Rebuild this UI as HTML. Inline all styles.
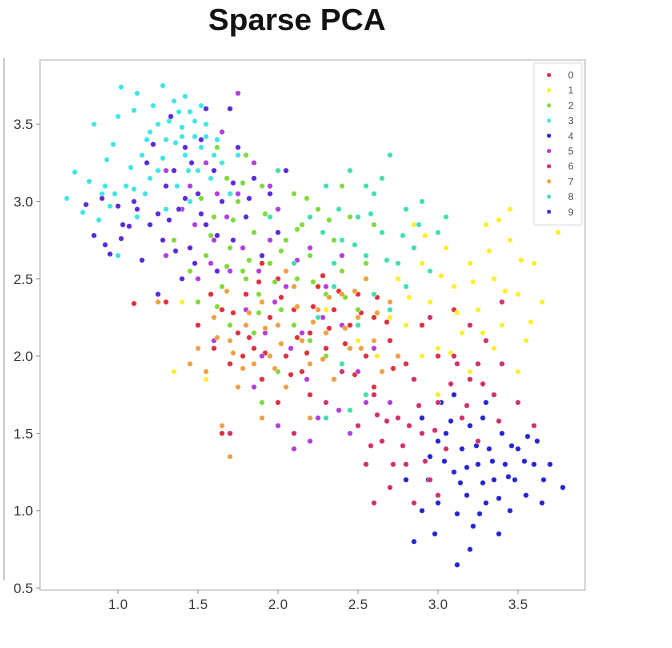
<!DOCTYPE html>
<html><head><meta charset="utf-8"><style>
html,body{margin:0;padding:0;background:#fff;}
svg{display:block;font-family:"Liberation Sans",sans-serif;}
</style></head><body>
<svg id="chart" width="672" height="648" viewBox="0 0 672 648">
<line x1="4" y1="58" x2="4" y2="580" stroke="#ccc" stroke-width="2"/>
<text x="297" y="30" text-anchor="middle" font-size="31" font-weight="bold" fill="#111">Sparse PCA</text>
<rect x="40" y="60" width="545" height="530" fill="#fff" stroke="#ccc" stroke-width="1.5"/>
<g id="axes"></g>
<g id="points"></g>
<g id="legend"></g>
</svg>
<script>
const classLabels=["0","1","2","3","4","5","6","7","8","9"];
const classColors=["#e0303a","#ffee30","#7ddc3a","#40e6e6","#2424d0","#b43ce0","#d0306e","#f0a040","#40e0b0","#5a2ad8"];
const xTicks=[1.0,1.5,2.0,2.5,3.0,3.5];
const yTicks=[0.5,1.0,1.5,2.0,2.5,3.0,3.5];
const c0=[[1.1,2.34],[1.3,2.35],[1.5,2.2],[1.6,2.05],[1.65,2.3],[1.7,1.95],[1.75,2.15],[1.8,2.4],[1.85,2.05],[1.9,1.85],[1.95,2.25],[2.0,2.5],[2.05,2.0],[2.1,2.3],[2.15,1.9],[2.2,2.15],[2.25,2.45],[2.3,2.05],[2.35,2.3],[2.4,1.95],[2.45,2.2],[2.5,2.4],[2.55,2.0],[2.6,2.25],[2.7,2.1],[2.8,1.95],[2.9,2.2],[3.0,2.0],[3.1,2.3],[1.65,1.5],[2.0,1.7],[2.2,1.75],[1.9,2.6],[2.1,2.6],[2.6,1.8],
[1.58,2.4],[1.72,2.28],[1.82,2.12],[1.92,2.02],[2.02,2.38],[2.12,2.12],[2.22,2.32],[2.32,2.18],[2.42,2.08],[2.52,2.28],[2.62,2.38],[2.72,1.92],[1.88,2.48],[2.08,1.88],[2.28,2.52],[2.48,1.88],[1.78,2.0],[2.18,2.02],[2.38,2.42],[2.68,2.22]];
const c1=[[1.35,1.9],[1.4,2.35],[1.55,1.85],[1.7,1.35],[2.75,2.5],[2.8,2.2],[2.85,2.85],[2.9,2.6],[2.95,2.35],[3.0,2.05],[3.05,2.7],[3.1,2.45],[3.15,2.15],[3.2,2.6],[3.25,2.3],[3.3,2.85],[3.35,2.5],[3.4,2.2],[3.45,2.75],[3.5,2.4],[3.55,2.1],[3.6,2.6],[3.65,2.35],[3.75,2.8],[3.45,2.95],[3.2,1.9],[3.0,1.75],[2.9,2.0],[3.5,1.9],[3.35,2.05],[2.5,2.1],[2.3,2.3],
[2.82,2.38],[2.92,2.78],[3.02,2.52],[3.12,2.28],[3.22,2.48],[3.32,2.68],[3.42,2.42],[3.52,2.62],[3.38,2.88],[3.08,2.02],[2.7,2.25],[2.62,2.0],[3.58,2.22],[3.28,2.15]];
const c2=[[1.55,2.65],[1.6,2.9],[1.65,2.45],[1.68,3.15],[1.7,2.7],[1.75,3.0],[1.78,2.55],[1.8,3.3],[1.85,2.8],[1.88,2.4],[1.9,3.1],[1.95,2.6],[2.0,2.95],[2.02,2.3],[2.05,2.75],[2.1,3.05],[2.12,2.5],[2.15,2.85],[2.2,2.65],[2.25,2.95],[2.3,2.4],[2.35,2.75],[2.4,2.55],[2.45,2.9],[2.5,2.3],[2.55,2.6],[1.5,2.35],[1.45,2.55],[1.7,2.2],[1.85,2.15],[2.0,1.9],[2.2,2.1],[1.9,1.7],[1.62,3.35],[2.4,3.1],[1.8,2.5],[2.1,2.2],[1.35,2.75],[2.6,2.85],[2.3,2.0],
[1.58,2.78],[1.72,2.88],[1.82,2.62],[1.92,2.92],[2.02,2.68],[2.12,2.82],[2.22,2.48],[2.32,2.88],[1.68,2.58],[1.78,3.12],[1.98,2.48],[2.18,3.02],[1.52,3.02],[1.62,2.32],[2.42,2.38],[1.88,2.28]];
const c3=[[0.68,3.02],[0.73,3.19],[0.78,2.93],[0.82,3.13],[0.85,3.5],[0.88,2.88],[0.9,3.05],[0.93,3.27],[0.95,2.97],[0.97,3.37],[1.0,3.55],[1.02,3.74],[1.05,3.1],[1.07,2.84],[1.1,3.59],[1.12,3.7],[1.15,3.3],[1.17,3.05],[1.2,3.45],[1.22,3.62],[1.25,3.2],[1.28,3.75],[1.3,3.4],[1.32,3.52],[1.35,3.65],[1.37,3.1],[1.4,3.48],[1.42,3.3],[1.45,3.58],[1.48,3.42],[1.5,3.2],[1.52,3.35],[1.55,3.5],[1.58,3.15],[1.62,3.4],[1.65,3.25],[1.7,3.05],[1.75,3.3],[1.0,2.65],[1.12,2.9],[1.3,2.95],[1.45,3.0],[1.2,3.15],[0.98,3.05],[1.08,3.22],
[1.38,3.58],[1.42,3.68],[1.48,3.52],[1.52,3.62],[1.36,3.38],[1.28,3.28],[1.18,3.4],[1.1,3.08],[0.92,3.1],[1.6,3.3],[1.44,3.2],[1.55,3.42],[1.25,3.5],[1.4,3.42]];
const c4=[[2.8,1.2],[2.85,0.8],[2.9,1.6],[2.95,1.35],[3.0,1.05],[3.02,1.7],[3.05,1.5],[3.1,1.25],[3.12,0.65],[3.15,1.4],[3.18,1.1],[3.2,1.55],[3.22,0.9],[3.25,1.3],[3.28,1.6],[3.3,1.05],[3.32,1.4],[3.35,1.2],[3.38,0.85],[3.4,1.5],[3.42,1.3],[3.45,1.0],[3.48,1.2],[3.5,1.4],[3.55,1.1],[3.6,1.3],[3.62,1.45],[3.65,1.05],[3.7,1.3],[3.78,1.15],[3.0,1.45],[3.1,1.75],[2.98,0.85],[3.3,1.7],[3.2,0.75],[2.9,1.0],
[3.04,1.32],[3.14,1.18],[3.24,1.42],[3.34,1.32],[3.44,1.22],[3.54,1.32],[3.08,1.58],[3.18,1.28],[3.28,1.18],[3.38,1.08],[3.46,1.42],[3.56,1.48],[2.94,1.2],[3.12,0.98],[3.26,0.98],[3.66,1.2]];
const c5=[[1.3,2.65],[1.4,2.95],[1.45,3.1],[1.5,2.5],[1.55,3.25],[1.6,2.75],[1.65,3.45],[1.7,2.55],[1.75,3.05],[1.8,2.3],[1.85,3.25],[1.9,2.0],[1.95,2.75],[2.0,1.55],[2.05,2.45],[2.1,1.4],[2.15,2.15],[2.2,2.7],[2.25,1.6],[2.3,2.45],[2.35,1.85],[2.4,2.65],[2.5,1.9],[2.6,2.05],[2.7,1.7],[1.75,3.7],[1.3,3.2],[1.6,2.1],[2.0,2.95],[1.85,1.8],[2.2,1.45],[2.45,1.5],[1.95,3.1],[2.4,2.2],
[1.58,2.6],[1.68,2.9],[1.78,2.7],[1.88,2.55],[1.98,2.35],[2.08,2.05],[2.18,1.85],[2.28,2.25],[2.38,1.65],[1.48,2.85],[1.62,3.05],[1.92,2.15],[2.12,2.62],[2.55,1.7]];
const c6=[[2.5,1.55],[2.55,1.3],[2.6,1.75],[2.65,1.45],[2.7,1.15],[2.75,1.6],[2.8,1.3],[2.85,1.85],[2.9,1.5],[2.95,1.2],[3.0,1.7],[3.05,1.4],[3.1,2.0],[3.15,1.6],[3.2,1.85],[3.25,1.45],[3.3,2.1],[3.35,1.75],[3.4,1.95],[3.5,1.7],[3.6,1.55],[3.4,2.35],[3.2,2.2],[2.95,2.25],[2.75,2.0],[2.6,1.05],[2.4,1.9],[2.3,1.7],[2.1,1.5],[1.7,1.5],[3.0,1.1],[3.25,1.95],[2.85,1.05],
[2.68,1.58],[2.78,1.42],[2.88,1.68],[2.98,1.52],[3.08,1.82],[3.18,1.68],[3.28,1.82],[2.72,1.3],[2.82,1.55],[2.62,1.62],[2.92,1.32],[3.12,1.95],[2.58,1.42],[3.38,1.58]];
const c7=[[1.25,2.35],[1.5,2.05],[1.55,1.9],[1.6,2.25],[1.7,2.1],[1.75,1.8],[1.8,2.2],[1.85,1.95],[1.9,2.35],[1.95,2.0],[2.0,2.2],[2.05,1.8],[2.1,2.45],[2.15,2.1],[2.2,1.95],[2.25,2.3],[2.3,2.15],[2.35,1.85],[2.4,2.4],[2.45,2.05],[2.5,2.25],[2.55,2.5],[2.6,2.1],[2.65,1.9],[2.7,2.35],[2.75,2.0],[1.7,1.35],[1.65,1.55],[1.45,1.95],[2.2,1.6],[2.05,2.55],[1.9,1.6],
[1.62,2.12],[1.72,2.02],[1.82,2.28],[1.92,2.18],[2.02,2.08],[2.12,2.32],[2.22,2.22],[2.32,2.38],[2.42,2.18],[2.52,2.05],[2.62,2.28],[1.78,1.92],[1.98,1.92],[2.28,1.98],[2.48,2.42],[1.68,2.42]];
const c8=[[2.2,2.9],[2.3,3.1],[2.4,2.75],[2.45,3.2],[2.5,2.9],[2.55,2.65],[2.6,3.05],[2.65,2.8],[2.7,3.3],[2.75,2.6],[2.8,2.95],[2.85,2.7],[2.9,3.0],[2.95,2.55],[3.0,2.8],[2.35,2.45],[2.5,2.2],[2.6,2.4],[2.4,1.95],[2.55,1.75],[2.3,1.6],[2.7,2.3],[2.1,2.6],[2.0,3.2],[2.8,2.45],[2.25,2.25],[3.05,2.9],[2.65,3.15],[2.45,1.65],[1.95,2.9],
[2.28,2.8],[2.38,2.95],[2.48,2.72],[2.58,2.92],[2.68,2.62],[2.78,2.78],[2.35,2.6],[2.55,3.1],[2.88,2.85]];
const c9=[[0.8,2.98],[0.85,2.78],[0.9,3.02],[0.92,2.72],[0.95,2.66],[1.0,2.97],[1.03,2.85],[1.07,2.84],[1.1,3.0],[1.15,2.62],[1.18,3.25],[1.22,3.37],[1.25,2.92],[1.28,2.75],[1.3,3.1],[1.33,3.55],[1.38,2.95],[1.42,3.35],[1.45,2.7],[1.5,3.05],[1.52,3.4],[1.55,2.85],[1.6,3.2],[1.62,2.55],[1.65,3.0],[1.7,3.6],[1.72,2.75],[1.75,3.35],[1.8,2.9],[1.85,3.15],[1.9,2.65],[1.95,3.05],[2.0,2.8],[2.05,3.2],[1.4,2.5],[1.25,2.4],[1.55,3.6],[1.2,2.85],[1.35,3.2],[1.48,2.6],
[1.12,2.95],[1.32,2.88],[1.42,3.02],[1.52,2.92],[1.62,2.78],[1.72,3.12],[1.82,3.02],[1.46,3.25],[1.36,2.68],[1.02,2.76]];
const classPoints=[c0,c1,c2,c3,c4,c5,c6,c7,c8,c9];

const NS="http://www.w3.org/2000/svg";
function sx(v){return 118+(v-1.0)*160;}
function sy(v){return 588-(v-0.5)*154.6;}
function mk(tag,attrs,parent){const e=document.createElementNS(NS,tag);for(const k in attrs)e.setAttribute(k,attrs[k]);parent.appendChild(e);return e;}
const axes=document.getElementById('axes');
xTicks.forEach(t=>{
  const tk=mk('line',{x1:sx(t),x2:sx(t),y1:590,y2:594,stroke:'#999'},axes);
  
  
  const tx=mk('text',{x:sx(t),y:609,'text-anchor':'middle','font-size':14,fill:'#333'},axes);
  tx.textContent=t.toFixed(1);
  
  
});
yTicks.forEach(t=>{
  const tk=mk('line',{x1:36,x2:40,y1:sy(t),y2:sy(t),stroke:'#999'},axes);
  
  
  const tx=mk('text',{x:33,y:sy(t)+5,'text-anchor':'end','font-size':14,fill:'#333'},axes);
  tx.textContent=t.toFixed(1);
  
  
});
const pts=document.getElementById('points');
classPoints.forEach((arr,ci)=>{
  arr.forEach(p=>{
    const c=mk('circle',{cx:sx(p[0]),cy:sy(p[1]),r:2.7,fill:classColors[ci],stroke:'#fff','stroke-width':0.4},pts);
    
    
  });
});
const lg=document.getElementById('legend');
const box=mk('rect',{x:534,y:63,width:48,height:162,fill:'#fff',stroke:'#ddd','stroke-width':1},lg);


classLabels.forEach((l,i)=>{
  const y=75+i*15.2;
  const d=mk('circle',{cx:549,cy:y,r:2,fill:classColors[i]},lg);
  
  
  const t=mk('text',{x:568,y:y+3.5,'font-size':10,fill:'#555'},lg);
  t.textContent=l;
  
  
});
</script>
</body></html>
